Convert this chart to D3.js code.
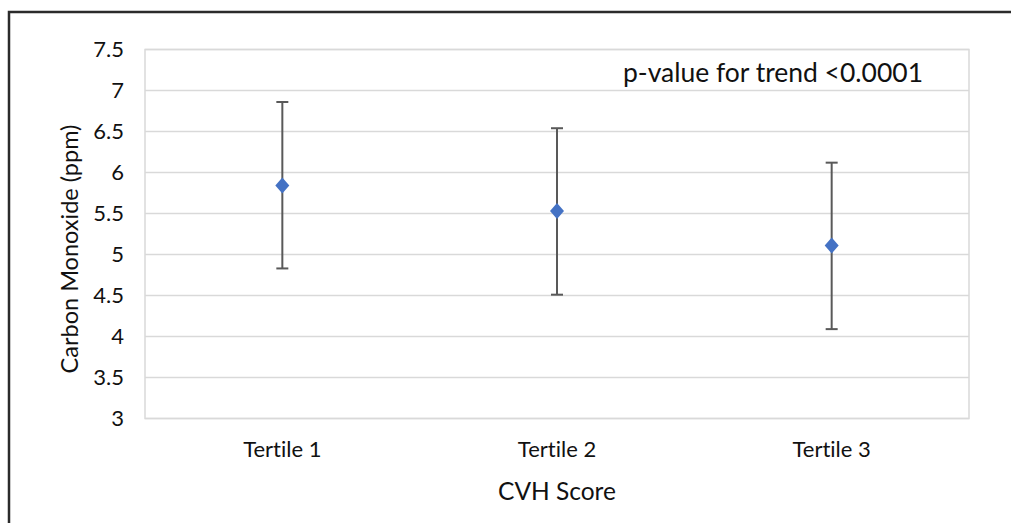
<!DOCTYPE html>
<html>
<head>
<meta charset="utf-8">
<script src="https://cdn.jsdelivr.net/npm/d3@7"></script>
<style>
  html, body { margin: 0; padding: 0; background: #fff; }
  svg { display: block; }
  text { font-variant-ligatures: none; font-feature-settings: "liga" 0; }
</style>
</head>
<body>
<svg id="chart" width="1011" height="523"></svg>
<script>
// Carbon monoxide by CVH score tertile: means with error bars
const categories = ["Tertile 1", "Tertile 2", "Tertile 3"];
const meanValues = [5.84, 5.53, 5.11];
const upperValues = [6.86, 6.54, 6.12];
const lowerValues = [4.83, 4.51, 4.09];
const yTicks = [3, 3.5, 4, 4.5, 5, 5.5, 6, 6.5, 7, 7.5];
const annotation = "p-value for trend <0.0001";

const svg = d3.select("#chart");
const font = "Lato, 'Open Sans', sans-serif";

const plot = { left: 145, right: 969, top: 49.5, bottom: 418.5 };

const x = d3.scaleBand().domain(categories).range([plot.left, plot.right]);
const y = d3.scaleLinear().domain([3, 7.5]).range([plot.bottom, plot.top]);

// outer frame (top and left edges)
svg.append("path")
  .attr("d", "M9,523 V12 H1011")
  .attr("fill", "none")
  .attr("stroke", "#2b2b2b")
  .attr("stroke-width", 2.5);

// horizontal gridlines
svg.append("g")
  .selectAll("line")
  .data(yTicks)
  .join("line")
  .attr("x1", plot.left).attr("x2", plot.right)
  .attr("y1", d => y(d)).attr("y2", d => y(d))
  .attr("stroke", "#d9d9d9").attr("stroke-width", 1.5);

// plot area border
svg.append("rect")
  .attr("x", plot.left).attr("y", plot.top)
  .attr("width", plot.right - plot.left).attr("height", plot.bottom - plot.top)
  .attr("fill", "none").attr("stroke", "#d9d9d9").attr("stroke-width", 1.5);

// y axis tick labels
const yAxis = d3.axisLeft(y).tickValues(yTicks).tickSize(0).tickPadding(21)
  .tickFormat(d3.format("~g"));
const yg = svg.append("g").attr("transform", `translate(${plot.left},0)`).call(yAxis);
yg.select(".domain").remove();
yg.selectAll("text")
  .attr("font-family", font).attr("font-size", 22).attr("fill", "#111");

// x axis category labels
const xAxis = d3.axisBottom(x).tickSize(0).tickPadding(23);
const xg = svg.append("g").attr("transform", `translate(0,${plot.bottom})`).call(xAxis);
xg.select(".domain").remove();
xg.selectAll("text")
  .attr("font-family", font).attr("font-size", 22).attr("fill", "#111");

// axis titles
svg.append("text")
  .attr("transform", `translate(78,249) rotate(-90)`)
  .attr("text-anchor", "middle")
  .attr("font-family", font).attr("font-size", 23.5).attr("fill", "#111")
  .text("Carbon Monoxide (ppm)");

svg.append("text")
  .attr("x", x("Tertile 2") + x.bandwidth() / 2).attr("y", 500)
  .attr("text-anchor", "middle")
  .attr("font-family", font).attr("font-size", 24.5).attr("fill", "#111")
  .text("CVH Score");

// annotation
svg.append("text")
  .attr("x", 623).attr("y", 82)
  .attr("font-family", font).attr("font-size", 26.5).attr("fill", "#111")
  .attr("textLength", 300).attr("lengthAdjust", "spacingAndGlyphs")
  .text(annotation);

// error bars and mean markers
const rows = categories.map((c, i) => ({
  cat: c, mean: meanValues[i], hi: upperValues[i], lo: lowerValues[i]
}));
const cx = d => x(d.cat) + x.bandwidth() / 2;
const capHalf = 6;

const bars = svg.append("g").selectAll("g").data(rows).join("g");
bars.append("line")
  .attr("x1", cx).attr("x2", cx)
  .attr("y1", d => y(d.hi)).attr("y2", d => y(d.lo))
  .attr("stroke", "#595959").attr("stroke-width", 2);
bars.append("line")
  .attr("x1", d => cx(d) - capHalf).attr("x2", d => cx(d) + capHalf)
  .attr("y1", d => y(d.hi)).attr("y2", d => y(d.hi))
  .attr("stroke", "#595959").attr("stroke-width", 2);
bars.append("line")
  .attr("x1", d => cx(d) - capHalf).attr("x2", d => cx(d) + capHalf)
  .attr("y1", d => y(d.lo)).attr("y2", d => y(d.lo))
  .attr("stroke", "#595959").attr("stroke-width", 2);
bars.append("path")
  .attr("d", d => {
    const px = cx(d), py = y(d.mean);
    return `M${px},${py - 8} L${px + 7},${py} L${px},${py + 8} L${px - 7},${py} Z`;
  })
  .attr("fill", "#4472c4");
</script>
</body>
</html>
